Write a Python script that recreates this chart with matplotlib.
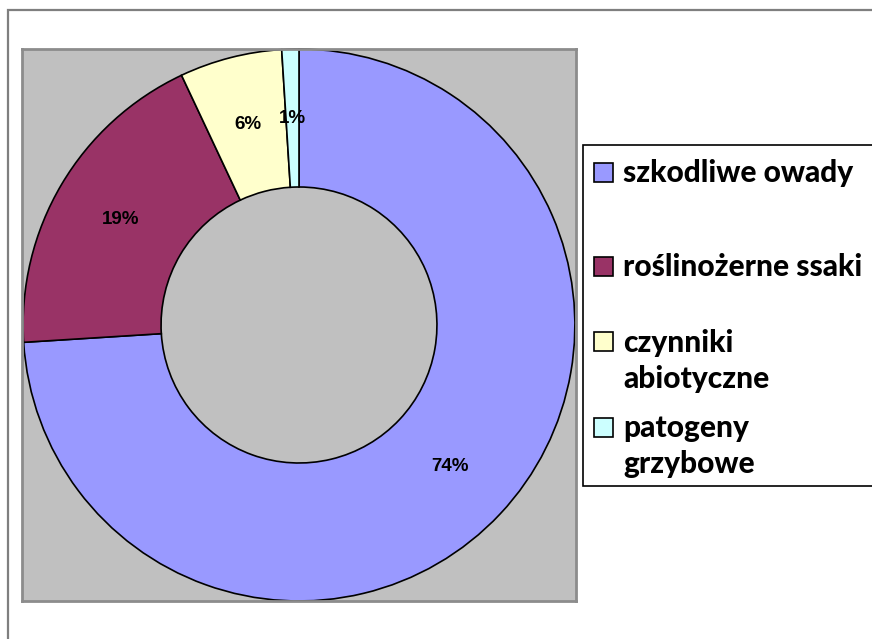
import matplotlib
matplotlib.use("Agg")
import matplotlib.pyplot as plt
from matplotlib.patches import Rectangle

# shares of damage causes (percent)
labels = ["szkodliwe owady", "roślinożerne ssaki", "czynniki\nabiotyczne", "patogeny\ngrzybowe"]
values = [74, 19, 6, 1]
colors = ["#9999FF", "#993366", "#FFFFCC", "#CCFFFF"]

W, H = 872, 639
fig = plt.figure(figsize=(W / 100, H / 100), dpi=100)

# outer chart frame (runs off the right and bottom edges)
fig.patches.append(Rectangle((8 / W, -0.1), 1.2, 1 - 10 / H + 0.1, transform=fig.transFigure,
                             fill=False, edgecolor="#7f7f7f", linewidth=1.6))

# grey plot area
ax = fig.add_axes([22 / W, 1 - 601 / H, 554 / W, 552 / H])

wedges, texts, autotexts = ax.pie(
    values, colors=colors, startangle=90, counterclock=False,
    autopct="%d%%", pctdistance=0.75, radius=1.0, frame=True,
    wedgeprops=dict(width=0.5, edgecolor="black", linewidth=1.2),
    textprops=dict(fontfamily="Liberation Sans", fontweight="bold", fontsize=13.5, color="black"),
)
ax.set_facecolor("#C0C0C0")
ax.set_frame_on(True)
for s in ax.spines.values():
    s.set_visible(True)
    s.set_edgecolor("#8c8c8c")
    s.set_linewidth(2)
ax.set_aspect("auto")
ax.set_xlim(-1.004, 1.004)
ax.set_ylim(-1.0, 1.0)
ax.set_xticks([])
ax.set_yticks([])

# legend box drawn by hand
fig.patches.append(Rectangle((583 / W, 1 - 486 / H), 1.0, (486 - 145) / H, transform=fig.transFigure,
                             facecolor="white", edgecolor="black", linewidth=1.2))
rows = [172, 266, 342, 427]
for lab, col, y in zip(labels, colors, rows):
    fig.patches.append(Rectangle((594 / W, 1 - (y + 9.5) / H), 19 / W, 19 / H, transform=fig.transFigure,
                                 facecolor=col, edgecolor="black", linewidth=1.2))
    for i, line in enumerate(lab.split("\n")):
        fig.text(623 / W, 1 - (y + 10 + 36 * i) / H, line, ha="left", va="baseline", fontsize=21.5,
                 fontfamily="Lato", fontweight=900, color="black")

fig.savefig("out.png", dpi=100)
